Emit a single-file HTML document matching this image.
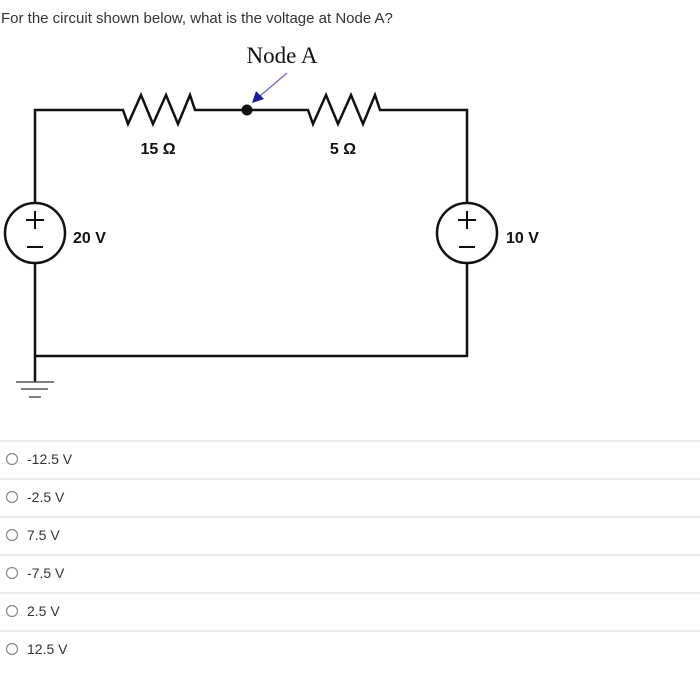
<!DOCTYPE html>
<html><head><meta charset="utf-8"><style>
html,body{margin:0;padding:0;background:#fff;width:700px;height:676px;overflow:hidden}
</style></head><body>
<svg width="700" height="676" viewBox="0 0 700 676" xmlns="http://www.w3.org/2000/svg">
<text x="1" y="23" font-family="Liberation Sans, sans-serif" font-size="15" fill="#333">For the circuit shown below, what is the voltage at Node A?</text>
<text x="282" y="63" text-anchor="middle" font-family="Liberation Serif, serif" font-size="23" fill="#111">Node A</text>
<g stroke="#111" stroke-width="2.5" fill="none" stroke-linejoin="miter">
<polyline points="35,202 35,110 123,110 128,124 141,95 153,124 166,95 178,124 190,95 195,110 308,110 313,124 326,95 338,124 351,95 363,124 375,95 380,110 467,110 467,202"/>
<circle cx="35" cy="233" r="30"/>
<circle cx="467" cy="233" r="30"/>
<polyline points="35,264 35,356 467,356 467,264"/>
<line x1="35" y1="356" x2="35" y2="382"/>
</g>
<g stroke="#111" stroke-width="2">
<line x1="35" y1="211" x2="35" y2="229"/><line x1="26" y1="220" x2="44" y2="220"/>
<line x1="27" y1="247" x2="43" y2="247"/>
<line x1="467" y1="211" x2="467" y2="229"/><line x1="458" y1="220" x2="476" y2="220"/>
<line x1="459" y1="247" x2="475" y2="247"/>
</g>
<g stroke="#555" stroke-width="1.5">
<line x1="16" y1="382" x2="54" y2="382"/><line x1="21" y1="389" x2="48" y2="389"/><line x1="29" y1="397" x2="41" y2="397"/>
</g>
<circle cx="247" cy="110" r="5.5" fill="#111"/>
<line x1="287" y1="73" x2="260" y2="96" stroke="#6a6acc" stroke-width="1.3"/>
<polygon points="252,103 256,91 264,99" fill="#1a1aa0"/>
<g font-family="Liberation Sans, sans-serif" font-weight="bold" font-size="16" fill="#111">
<text x="158" y="154" text-anchor="middle">15 Ω</text>
<text x="343" y="154" text-anchor="middle">5 Ω</text>
<text x="73" y="243">20 V</text>
<text x="506" y="243">10 V</text>
</g>
<g stroke="#e4e4e4" stroke-width="1.5">
<line x1="0" y1="441" x2="700" y2="441"/><line x1="0" y1="479" x2="700" y2="479"/>
<line x1="0" y1="517" x2="700" y2="517"/><line x1="0" y1="555" x2="700" y2="555"/>
<line x1="0" y1="593" x2="700" y2="593"/><line x1="0" y1="631" x2="700" y2="631"/>
</g>
<g fill="none" stroke="#888" stroke-width="1.2">
<circle cx="12" cy="459" r="5.5"/><circle cx="12" cy="497" r="5.5"/><circle cx="12" cy="535" r="5.5"/>
<circle cx="12" cy="573" r="5.5"/><circle cx="12" cy="611" r="5.5"/><circle cx="12" cy="649" r="5.5"/>
</g>
<g font-family="Liberation Sans, sans-serif" font-size="14" fill="#333">
<text x="27" y="464">-12.5 V</text>
<text x="27" y="502">-2.5 V</text>
<text x="27" y="540">7.5 V</text>
<text x="27" y="578">-7.5 V</text>
<text x="27" y="616">2.5 V</text>
<text x="27" y="654">12.5 V</text>
</g>
</svg>
</body></html>
